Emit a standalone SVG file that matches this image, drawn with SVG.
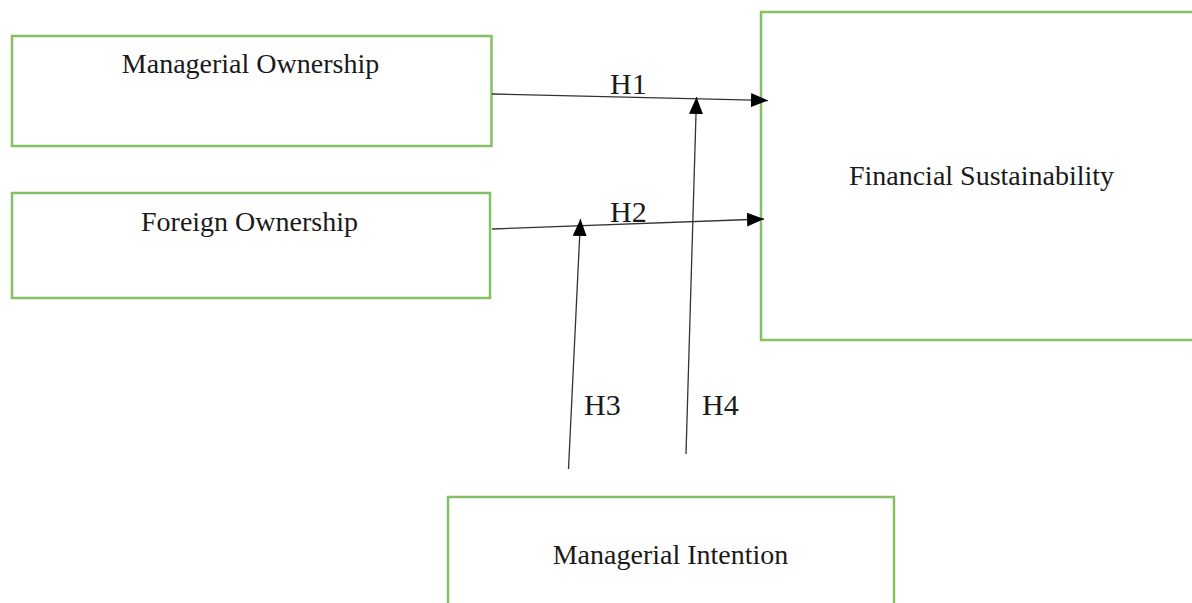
<svg xmlns="http://www.w3.org/2000/svg" width="1192" height="603" viewBox="0 0 1192 603">
<style>
.box{fill:#fff;stroke:#86c064;stroke-width:2.5}
.lbl{font-family:"Liberation Serif","Times New Roman",serif;font-size:28px;fill:#1a1a1a;text-anchor:middle}
.h{font-family:"Liberation Serif","Times New Roman",serif;font-size:30px;fill:#1a1a1a}
.c{stroke:#333;stroke-width:1.3;fill:none;marker-end:url(#ah)}
</style>
<defs>
<marker id="ah" markerUnits="userSpaceOnUse" markerWidth="18" markerHeight="14" refX="17" refY="7" orient="auto">
<path d="M0,0 L17,7 L0,14 Z" fill="#000"/>
</marker>
</defs>
<rect width="1192" height="603" fill="#fff"/>
<g id="mo"><rect class="box" x="12" y="36" width="479.5" height="110"/><text class="lbl" x="250.5" y="73">Managerial Ownership</text></g>
<g id="fo"><rect class="box" x="12" y="193" width="478" height="105"/><text class="lbl" x="249.5" y="231">Foreign Ownership</text></g>
<g id="fs"><rect class="box" x="761" y="12" width="440" height="328"/><text class="lbl" x="981.5" y="185">Financial Sustainability</text></g>
<g id="mi"><rect class="box" x="448" y="497" width="446" height="120"/><text class="lbl" x="670.5" y="564">Managerial Intention</text></g>
<g id="connectors">
<line class="c" x1="492" y1="94" x2="768" y2="100.5"/>
<line class="c" x1="492" y1="229" x2="764" y2="219"/>
<line class="c" x1="568.5" y1="469" x2="580.5" y2="219"/>
<line class="c" x1="686" y1="454" x2="696.5" y2="97"/>
<text class="h" x="610" y="94">H1</text>
<text class="h" x="610" y="222">H2</text>
<text class="h" x="584" y="415">H3</text>
<text class="h" x="702" y="415">H4</text>
</g>
</svg>
